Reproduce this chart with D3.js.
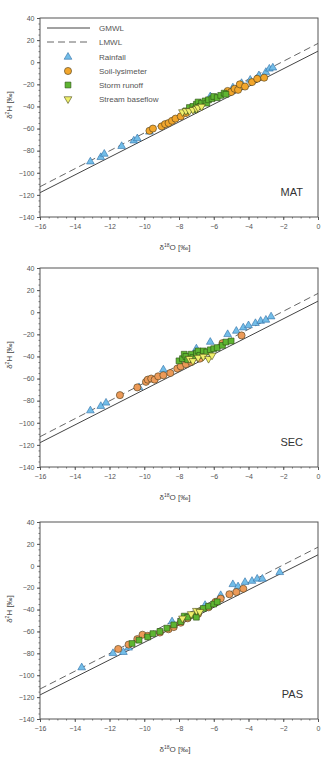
<!DOCTYPE html>
<html>
<head>
<meta charset="utf-8">
<script src="https://cdn.jsdelivr.net/npm/d3@7"></script>
<style>
  body { margin: 0; background: #fff; }
  svg { font-family: "Liberation Sans", Arial, sans-serif; }
</style>
</head>
<body>
<div id="chart"></div>
<script>
// isotope data, [d18O, d2H] pairs
const panelNames = ["MAT", "SEC", "PAS"];
const seriesNames = ["Rainfall", "Soil-lysimeter", "Storm runoff", "Stream baseflow"];
const xTicks = [-16, -14, -12, -10, -8, -6, -4, -2, 0];
const yTicks = [40, 20, 0, -20, -40, -60, -80, -100, -120, -140];

// meteoric water lines: slope, intercept
const gmwl = [8, 10];
const lmwl = [8.1, 17];

const matRainfall = [[-13.1,-90],[-12.5,-86],[-12.3,-83],[-11.3,-76],[-10.6,-71],[-10.4,-69],[-9.7,-63],[-6.2,-31],[-4.9,-23],[-4.4,-19],[-3.9,-16],[-3.4,-12],[-3.0,-9],[-2.8,-6],[-2.6,-5]];
const matSoil = [[-9.7,-62],[-9.5,-60],[-9.0,-58],[-8.8,-56],[-8.6,-55],[-8.4,-53],[-8.2,-51],[-7.9,-49],[-7.6,-46],[-5.2,-26],[-5.0,-27],[-4.8,-24],[-4.6,-25],[-4.5,-20],[-4.2,-22],[-3.8,-18],[-3.5,-15],[-3.1,-14]];
const matStorm = [[-7.6,-44],[-7.4,-41],[-7.2,-40],[-7.1,-43],[-7.0,-38],[-6.9,-36],[-6.8,-40],[-6.7,-37],[-6.5,-35],[-6.4,-37],[-6.3,-34],[-6.1,-33],[-6.0,-31],[-5.8,-32],[-5.6,-30],[-5.4,-28],[-5.3,-29]];
const matBaseflow = [[-7.8,-45],[-7.6,-44],[-7.4,-44],[-7.2,-43],[-7.0,-42],[-6.9,-41],[-6.7,-40]];

const secRainfall = [[-13.1,-89],[-12.5,-85],[-12.2,-82],[-10.3,-68],[-8.9,-52],[-7.0,-33],[-6.2,-27],[-5.2,-20],[-4.7,-17],[-4.3,-14],[-4.0,-12],[-3.6,-10],[-3.3,-8],[-3.0,-7],[-2.7,-4]];
const secSoil = [[-11.4,-75],[-10.4,-68],[-9.9,-63],[-9.8,-61],[-9.6,-60],[-9.4,-61],[-9.2,-58],[-8.9,-57],[-8.5,-55],[-8.1,-51],[-7.9,-49],[-7.6,-47],[-7.3,-45],[-6.8,-42],[-5.5,-28],[-4.4,-21]];
const secStorm = [[-8.0,-44],[-7.8,-42],[-7.7,-38],[-7.6,-40],[-7.5,-43],[-7.3,-38],[-7.2,-41],[-7.0,-37],[-6.9,-35],[-6.8,-39],[-6.6,-35],[-6.4,-36],[-6.2,-34],[-6.0,-33],[-5.8,-32],[-5.5,-30],[-5.3,-27],[-5.0,-26]];
const secBaseflow = [[-7.4,-42],[-7.2,-44],[-6.9,-41],[-6.6,-40],[-6.3,-42],[-6.1,-39]];

const pasRainfall = [[-13.6,-93],[-11.8,-80],[-11.2,-79],[-10.9,-75],[-8.4,-51],[-6.5,-36],[-5.6,-27],[-4.9,-17],[-4.6,-19],[-4.2,-15],[-3.8,-14],[-3.5,-12],[-3.2,-12],[-2.2,-6]];
const pasSoil = [[-11.5,-76],[-10.9,-72],[-10.4,-67],[-10.1,-63],[-9.8,-64],[-9.1,-61],[-8.6,-58],[-8.3,-56],[-7.9,-52],[-7.5,-48],[-6.9,-44],[-6.3,-38],[-5.9,-33],[-5.6,-30],[-5.1,-26],[-4.7,-24],[-4.3,-21]];
const pasStorm = [[-10.7,-71],[-10.3,-68],[-9.8,-65],[-9.5,-62],[-9.1,-60],[-8.7,-57],[-8.3,-54],[-7.9,-51],[-7.7,-46],[-7.5,-47],[-7.2,-45],[-7.0,-47],[-6.9,-42],[-6.6,-39],[-6.3,-37],[-6.0,-35],[-5.8,-33]];
const pasBaseflow = [[-7.8,-48],[-7.3,-44],[-7.0,-41],[-6.8,-42]];

const panelData = [
  [matRainfall, matSoil, matStorm, matBaseflow],
  [secRainfall, secSoil, secStorm, secBaseflow],
  [pasRainfall, pasSoil, pasStorm, pasBaseflow]
];

const width = 323;
const height = 759;
const left = 40, right = 318;
const panelTops = [18, 268, 522];
const panelBottoms = [217, 467, 719];

const symbols = [d3.symbolTriangle, d3.symbolCircle, d3.symbolSquare, d3.symbolTriangle];
const symbolSizes = [26, 40, 34, 26];
const fills = ["#72bde8", "#f2a62c", "#5db531", "#eff06c"];
const soilFillLater = "#ec9a58";
const strokes = ["#2f6fa6", "#4a3a1a", "#2c4d14", "#4a4a1a"];

const svg = d3.select("#chart")
  .append("svg")
  .attr("width", width)
  .attr("height", height);

const x = d3.scaleLinear().domain([-16, 0]).range([left, right]);

panelData.forEach((series, p) => {
  const y = d3.scaleLinear().domain([-140, 40]).range([panelBottoms[p], panelTops[p]]);
  const g = svg.append("g");

  // minor ticks
  g.append("g")
    .attr("transform", `translate(${left},0)`)
    .call(d3.axisLeft(y).tickValues(d3.range(-140, 41, 5)).tickSize(1.5).tickFormat(""))
    .call(a => a.select(".domain").remove())
    .selectAll("line").attr("stroke", "#777");
  g.append("g")
    .attr("transform", `translate(0,${panelBottoms[p]})`)
    .call(d3.axisBottom(x).tickValues(d3.range(-16, 0.01, 0.5)).tickSize(1.5).tickFormat(""))
    .call(a => a.select(".domain").remove())
    .selectAll("line").attr("stroke", "#777");

  // major ticks
  const yAxis = g.append("g")
    .attr("transform", `translate(${left},0)`)
    .call(d3.axisLeft(y).tickValues(yTicks).tickSize(3).tickPadding(2.5));
  const xAxis = g.append("g")
    .attr("transform", `translate(0,${panelBottoms[p]})`)
    .call(d3.axisBottom(x).tickValues(xTicks).tickSize(3).tickPadding(4));
  [yAxis, xAxis].forEach(a => {
    a.select(".domain").remove();
    a.selectAll("line").attr("stroke", "#555");
    a.selectAll("text").attr("font-size", 7).attr("fill", "#555")
      .attr("font-family", "Liberation Sans, Arial, sans-serif");
  });

  // water lines
  const lineFor = (m) => d3.line()
    .x(d => x(d))
    .y(d => y(m[0] * d + m[1]));
  g.append("path")
    .datum([-16, 0])
    .attr("d", lineFor(gmwl))
    .attr("fill", "none")
    .attr("stroke", "#444")
    .attr("stroke-width", 1);
  g.append("path")
    .datum([-16, 0])
    .attr("d", lineFor(lmwl))
    .attr("fill", "none")
    .attr("stroke", "#666")
    .attr("stroke-width", 1)
    .attr("stroke-dasharray", "7,4");

  // points
  series.forEach((pts, s) => {
    g.append("g")
      .selectAll("path")
      .data(pts)
      .enter()
      .append("path")
      .attr("transform", d => `translate(${x(d[0])},${y(d[1])})` + (s === 3 ? " rotate(180)" : ""))
      .attr("d", d3.symbol().type(symbols[s]).size(symbolSizes[s]))
      .attr("fill", s === 1 && p > 0 ? soilFillLater : fills[s])
      .attr("stroke", strokes[s])
      .attr("stroke-width", 0.6);
  });

  // frame
  g.append("rect")
    .attr("x", left)
    .attr("y", panelTops[p])
    .attr("width", right - left)
    .attr("height", panelBottoms[p] - panelTops[p])
    .attr("fill", "none")
    .attr("stroke", "#555")
    .attr("stroke-width", 1);

  // site label
  g.append("text")
    .attr("x", 303)
    .attr("y", panelBottoms[p] - 21)
    .attr("text-anchor", "end")
    .attr("font-size", 11)
    .attr("fill", "#333")
    .text(panelNames[p]);

  // axis titles
  const xt = g.append("text")
    .attr("x", 175)
    .attr("y", panelBottoms[p] + 33)
    .attr("text-anchor", "middle")
    .attr("font-size", 8)
    .attr("fill", "#444");
  xt.append("tspan").text("δ");
  xt.append("tspan").attr("dy", -3).attr("font-size", 5).text("18");
  xt.append("tspan").attr("dy", 3).text("O [‰]");

  const yt = g.append("text")
    .attr("transform", `translate(12,${panelTops[p] + 87}) rotate(-90)`)
    .attr("text-anchor", "middle")
    .attr("font-size", 8)
    .attr("fill", "#444");
  yt.append("tspan").text("δ");
  yt.append("tspan").attr("dy", -3).attr("font-size", 5).text("2");
  yt.append("tspan").attr("dy", 3).text("H [‰]");
});

// legend in first panel
const legend = svg.append("g");
const legendY0 = 28;
legend.append("line")
  .attr("x1", 47).attr("x2", 90)
  .attr("y1", legendY0).attr("y2", legendY0)
  .attr("stroke", "#444");
legend.append("line")
  .attr("x1", 47).attr("x2", 90)
  .attr("y1", legendY0 + 14).attr("y2", legendY0 + 14)
  .attr("stroke", "#666")
  .attr("stroke-dasharray", "7,4");
["GMWL", "LMWL"].forEach((t, i) => {
  legend.append("text")
    .attr("x", 99)
    .attr("y", legendY0 + i * 14 + 3)
    .attr("font-size", 8)
    .attr("fill", "#555")
    .text(t);
});
const items = legend.selectAll(".legend")
  .data(seriesNames)
  .enter()
  .append("g")
  .attr("class", "legend")
  .attr("transform", (d, i) => `translate(0,${legendY0 + 29 + i * 14})`);
items.append("path")
  .attr("transform", (d, i) => `translate(68,0)` + (i === 3 ? " rotate(180)" : ""))
  .attr("d", (d, i) => d3.symbol().type(symbols[i]).size(symbolSizes[i])())
  .attr("fill", (d, i) => fills[i])
  .attr("stroke", (d, i) => strokes[i])
  .attr("stroke-width", 0.6);
items.append("text")
  .attr("x", 99)
  .attr("y", 3)
  .attr("font-size", 8)
  .attr("fill", "#555")
  .text(d => d);
</script>
</body>
</html>
